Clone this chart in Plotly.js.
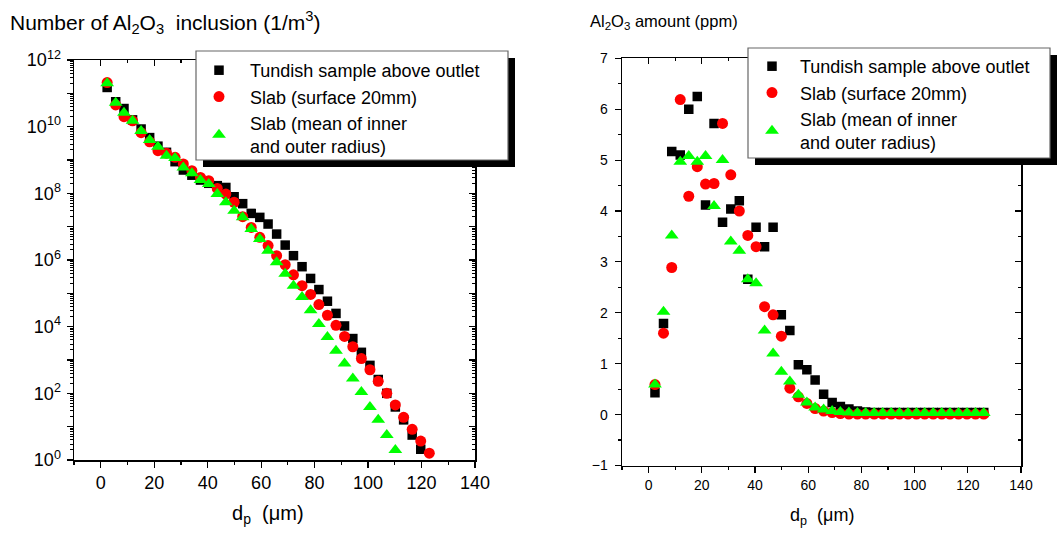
<!DOCTYPE html>
<html>
<head>
<meta charset="utf-8">
<script src="https://cdn.plot.ly/plotly-3.0.1.min.js"></script>
<style>html,body{margin:0;padding:0;background:#fff;}#chart{width:1064px;height:535px;}</style>
</head>
<body>
<div id="chart"></div>
<script>
// particle diameter bins (µm)
const dp = [2.4, 5.6, 8.7, 11.9, 15.1, 18.3, 21.4, 24.6, 27.8, 30.9, 34.1, 37.3, 40.4, 43.6, 46.8, 49.9, 53.1, 56.3, 59.5, 62.6,
            65.8, 69.0, 72.1, 75.3, 78.5, 81.6, 84.8, 88.0, 91.2, 94.3, 97.5, 100.7, 103.8, 107.0, 110.2, 113.3, 116.5, 119.7, 122.9, 126.0];

const seriesNames = ["Tundish sample above outlet", "Slab (surface 20mm)", "Slab (mean of inner<br>and outer radius)"];

// Left panel: number of Al2O3 inclusions (1/m^3)
const numTundish = [1.5e11, 5.6e10, 3.5e10, 1.6e10, 8.5e9, 4.7e9, 2.6e9, 1.7e9, 8.9e8, 5.0e8, 3.5e8, 2.5e8, 2.0e8, 1.7e8, 1.5e8,
                    7.9e7, 4.9e7, 2.5e7, 1.9e7, 1.2e7, 6.0e6, 2.8e6, 1.35e6, 6.3e5, 2.8e5, 1.3e5, 5.8e4, 2.5e4, 1.05e4, 4.4e3,
                    1.7e3, 690, 260, 100, 39, 16, 5.6, 2.1];
const numSlabSurface = [2.1e11, 4.5e10, 2.0e10, 1.5e10, 6.6e9, 3.5e9, 1.9e9, 1.6e9, 1.2e9, 7.6e8, 4.8e8, 3.0e8, 2.4e8, 1.4e8, 9.5e7,
                        5.4e7, 2.0e7, 9.5e6, 4.8e6, 2.7e6, 1.35e6, 7.2e5, 3.6e5, 1.7e5, 9.3e4, 4.6e4, 2.2e4, 1.1e4, 5.1e3, 2.5e3,
                        1.1e3, 510, 230, 100, 45, 19, 8.3, 3.7, 1.6];
const numSlabMean = [2.0e11, 5.2e10, 2.6e10, 1.5e10, 7.4e9, 4.0e9, 2.5e9, 1.35e9, 1.15e9, 6.0e8, 4.0e8, 2.5e8, 1.9e8, 9.5e7, 5.4e7,
                     3.0e7, 1.9e7, 8.5e6, 4.3e6, 1.9e6, 8.5e5, 3.9e5, 1.7e5, 7.8e4, 3.1e4, 1.2e4, 4.9e3, 1.9e3, 780, 280,
                     110, 39, 16, 5.6, 2.0];

// Right panel: Al2O3 amount (ppm)
const amtTundish = [0.43, 1.79, 5.17, 5.10, 6.00, 6.25, 4.12, 5.72, 3.78, 4.04, 4.20, 2.66, 3.68, 3.30, 3.68, 1.96, 1.65, 0.98, 0.88, 0.68,
                    0.40, 0.24, 0.16, 0.11, 0.07, 0.05, 0.04, 0.04, 0.04, 0.04, 0.04, 0.04, 0.04, 0.04, 0.04, 0.04, 0.04, 0.04, 0.04, 0.04];
const amtSlabSurface = [0.59, 1.60, 2.89, 6.19, 4.29, 4.87, 4.53, 4.54, 5.72, 4.71, 4.00, 3.52, 3.30, 2.12, 1.96, 1.54, 0.52, 0.35, 0.22, 0.12,
                        0.07, 0.04, 0.02, 0.01, 0.01, 0.01, 0.01, 0.01, 0.01, 0.01, 0.01, 0.01, 0.01, 0.01, 0.01, 0.01, 0.01, 0.01, 0.01, 0.01];
const amtSlabMean = [0.59, 2.02, 3.52, 4.97, 5.08, 4.97, 5.08, 4.10, 5.00, 3.40, 3.22, 2.66, 2.58, 1.65, 1.20, 0.84, 0.65, 0.39, 0.24, 0.14,
                     0.10, 0.07, 0.05, 0.04, 0.03, 0.03, 0.03, 0.03, 0.03, 0.03, 0.03, 0.03, 0.03, 0.03, 0.03, 0.03, 0.03, 0.03, 0.03, 0.03];

// log-axis tick positions (axis configuration)
const labeledDecades = [1, 1e2, 1e4, 1e6, 1e8, 1e10, 1e12];
const labeledDecadeText = ["10<sup>0</sup>", "10<sup>2</sup>", "10<sup>4</sup>", "10<sup>6</sup>", "10<sup>8</sup>", "10<sup>10</sup>", "10<sup>12</sup>"];
const unlabeledDecades = [1e1, 1e3, 1e5, 1e7, 1e9, 1e11];
const allDecades = [1, 1e1, 1e2, 1e3, 1e4, 1e5, 1e6, 1e7, 1e8, 1e9, 1e10, 1e11, 1e12];
const minorDigits = [2, 3, 4, 5, 6, 7, 8, 9];
const minorLogTicks = [];
allDecades.slice(0, -1).forEach(d => minorDigits.forEach(m => minorLogTicks.push(d * m)));

const F = "Liberation Sans, Arial, Helvetica, sans-serif";
const W = 1064, H = 535;
const px = p => p / W;
const py = p => 1 - p / H;

const sq = {symbol: "square", size: 9.5, color: "#000000"};
const ci = {symbol: "circle", size: 11, color: "#ff0000"};
const tr = {symbol: "triangle-up", size: 12, color: "#00ff00"};

const traces = [
  {x: dp.slice(0, numTundish.length), y: numTundish, name: seriesNames[0], mode: "markers", marker: sq, xaxis: "x", yaxis: "y", legend: "legend"},
  {x: dp.slice(0, numSlabSurface.length), y: numSlabSurface, name: seriesNames[1], mode: "markers", marker: ci, xaxis: "x", yaxis: "y", legend: "legend"},
  {x: dp.slice(0, numSlabMean.length), y: numSlabMean, name: seriesNames[2], mode: "markers", marker: tr, xaxis: "x", yaxis: "y", legend: "legend"},
  {x: dp, y: amtTundish, name: seriesNames[0], mode: "markers", marker: sq, xaxis: "x2", yaxis: "y2", legend: "legend2"},
  {x: dp, y: amtSlabSurface, name: seriesNames[1], mode: "markers", marker: ci, xaxis: "x2", yaxis: "y2", legend: "legend2"},
  {x: dp, y: amtSlabMean, name: seriesNames[2], mode: "markers", marker: tr, xaxis: "x2", yaxis: "y2", legend: "legend2"},
  // empty helpers so the mirrored / extra tick axes are drawn
  {x: [], y: [], xaxis: "x3", yaxis: "y", showlegend: false, hoverinfo: "skip"},
  {x: [], y: [], xaxis: "x", yaxis: "y3", showlegend: false, hoverinfo: "skip"},
  {x: [], y: [], xaxis: "x", yaxis: "y5", showlegend: false, hoverinfo: "skip"},
  {x: [], y: [], xaxis: "x4", yaxis: "y2", showlegend: false, hoverinfo: "skip"},
  {x: [], y: [], xaxis: "x2", yaxis: "y4", showlegend: false, hoverinfo: "skip"}
];

const baseAx = {showgrid: false, zeroline: false, showline: true, linecolor: "#000", linewidth: 1.5,
                tickcolor: "#000", tickwidth: 1.2, ticklen: 6};

const xLeftDom = [px(74), px(475)];
const yLeftDom = [py(460), py(60)];
const xRightDom = [px(622), px(1021)];
const yRightDom = [py(465.5), py(58.3)];

const layout = {
  width: W, height: H,
  margin: {l: 0, r: 0, t: 0, b: 0},
  paper_bgcolor: "#fff", plot_bgcolor: "#fff",
  font: {family: F, color: "#000"},
  xaxis: Object.assign({}, baseAx, {domain: xLeftDom, anchor: "y", range: [-10, 140], tick0: 0, dtick: 20, ticks: "outside",
          minor: {dtick: 10, tick0: 0, ticks: "outside", ticklen: 3, tickcolor: "#000"}, tickfont: {size: 18}, ticklabelstandoff: 0}),
  yaxis: Object.assign({}, baseAx, {domain: yLeftDom, anchor: "x", type: "log", range: [0, 12], tickmode: "array",
          tickvals: labeledDecades, ticktext: labeledDecadeText, ticks: "outside",
          minor: {tickmode: "array", tickvals: minorLogTicks, ticks: "outside", ticklen: 3, tickcolor: "#000", tickwidth: 1}, tickfont: {size: 18}, ticklabelstandoff: 2}),
  yaxis5: Object.assign({}, baseAx, {overlaying: "y", side: "left", anchor: "x", type: "log", range: [0, 12], tickmode: "array",
          tickvals: unlabeledDecades, ticks: "outside", showticklabels: false}),
  xaxis3: Object.assign({}, baseAx, {overlaying: "x", side: "top", anchor: "y", range: [-10, 140], tick0: 0, dtick: 20,
          ticks: "inside", showticklabels: false, minor: {dtick: 10, tick0: 0, ticks: "inside", ticklen: 3, tickcolor: "#000"}}),
  yaxis3: Object.assign({}, baseAx, {overlaying: "y", side: "right", anchor: "x", type: "log", range: [0, 12], tickmode: "array",
          tickvals: allDecades, ticks: "inside", showticklabels: false,
          minor: {tickmode: "array", tickvals: minorLogTicks, ticks: "inside", ticklen: 3, tickcolor: "#000", tickwidth: 1}}),
  xaxis2: Object.assign({}, baseAx, {domain: xRightDom, anchor: "y2", range: [-10, 140], tick0: 0, dtick: 20, ticks: "outside",
          minor: {dtick: 10, tick0: 0, ticks: "outside", ticklen: 3, tickcolor: "#000"}, tickfont: {size: 14}, ticklabelstandoff: 0}),
  yaxis2: Object.assign({}, baseAx, {domain: yRightDom, anchor: "x2", range: [-1, 7], tick0: 0, dtick: 1, ticks: "outside",
          minor: {dtick: 0.5, ticks: "outside", ticklen: 3, tickcolor: "#000"}, tickfont: {size: 14}, ticklabelstandoff: 4}),
  xaxis4: Object.assign({}, baseAx, {overlaying: "x2", side: "top", anchor: "y2", range: [-10, 140], tick0: 0, dtick: 20,
          ticks: "inside", showticklabels: false, minor: {dtick: 10, tick0: 0, ticks: "inside", ticklen: 3, tickcolor: "#000"}}),
  yaxis4: Object.assign({}, baseAx, {overlaying: "y2", side: "right", anchor: "x2", range: [-1, 7], tick0: 0, dtick: 1,
          ticks: "inside", showticklabels: false, minor: {dtick: 0.5, ticks: "inside", ticklen: 3, tickcolor: "#000"}}),
  showlegend: true,
  legend: {x: px(188), y: py(52), xanchor: "left", yanchor: "top", bgcolor: "rgba(0,0,0,0)", borderwidth: 0,
           font: {family: F, size: 18, color: "#000"}, itemwidth: 52, tracegroupgap: 0, traceorder: "normal"},
  legend2: {x: px(744), y: py(48), xanchor: "left", yanchor: "top", bgcolor: "rgba(0,0,0,0)", borderwidth: 0,
           font: {family: F, size: 18, color: "#000"}, itemwidth: 46, tracegroupgap: 0, traceorder: "normal"},
  shapes: [
    {type: "rect", xref: "paper", yref: "paper", x0: px(203), x1: px(515), y0: py(58), y1: py(167), fillcolor: "#000", line: {width: 0}, layer: "above"},
    {type: "rect", xref: "paper", yref: "paper", x0: px(196), x1: px(508), y0: py(51), y1: py(160), fillcolor: "#fff", line: {color: "#666", width: 1.2}, layer: "above"},
    {type: "rect", xref: "paper", yref: "paper", x0: px(755), x1: px(1057), y0: py(55), y1: py(165), fillcolor: "#000", line: {width: 0}, layer: "above"},
    {type: "rect", xref: "paper", yref: "paper", x0: px(748), x1: px(1050), y0: py(48), y1: py(158), fillcolor: "#fff", line: {color: "#666", width: 1.2}, layer: "above"}
  ],
  annotations: [
    {text: "Number of Al<sub>2</sub>O<sub>3</sub>  inclusion (1/m<sup>3</sup>)", xref: "paper", yref: "paper",
     x: px(8), y: py(22), xanchor: "left", yanchor: "middle", showarrow: false, font: {family: F, size: 21, color: "#000"}},
    {text: "Al<sub>2</sub>O<sub>3</sub> amount (ppm)", xref: "paper", yref: "paper",
     x: px(588), y: py(22), xanchor: "left", yanchor: "middle", showarrow: false, font: {family: F, size: 16.5, color: "#000"}},
    {text: "d<sub>p</sub>  (μm)", xref: "paper", yref: "paper",
     x: px(268), y: py(514), xanchor: "center", yanchor: "middle", showarrow: false, font: {family: F, size: 20, color: "#000"}},
    {text: "d<sub>p</sub>  (μm)", xref: "paper", yref: "paper",
     x: px(822), y: py(516), xanchor: "center", yanchor: "middle", showarrow: false, font: {family: F, size: 18, color: "#000"}}
  ]
};

Plotly.newPlot("chart", traces, layout, {displayModeBar: false, staticPlot: true});
</script>
</body>
</html>
